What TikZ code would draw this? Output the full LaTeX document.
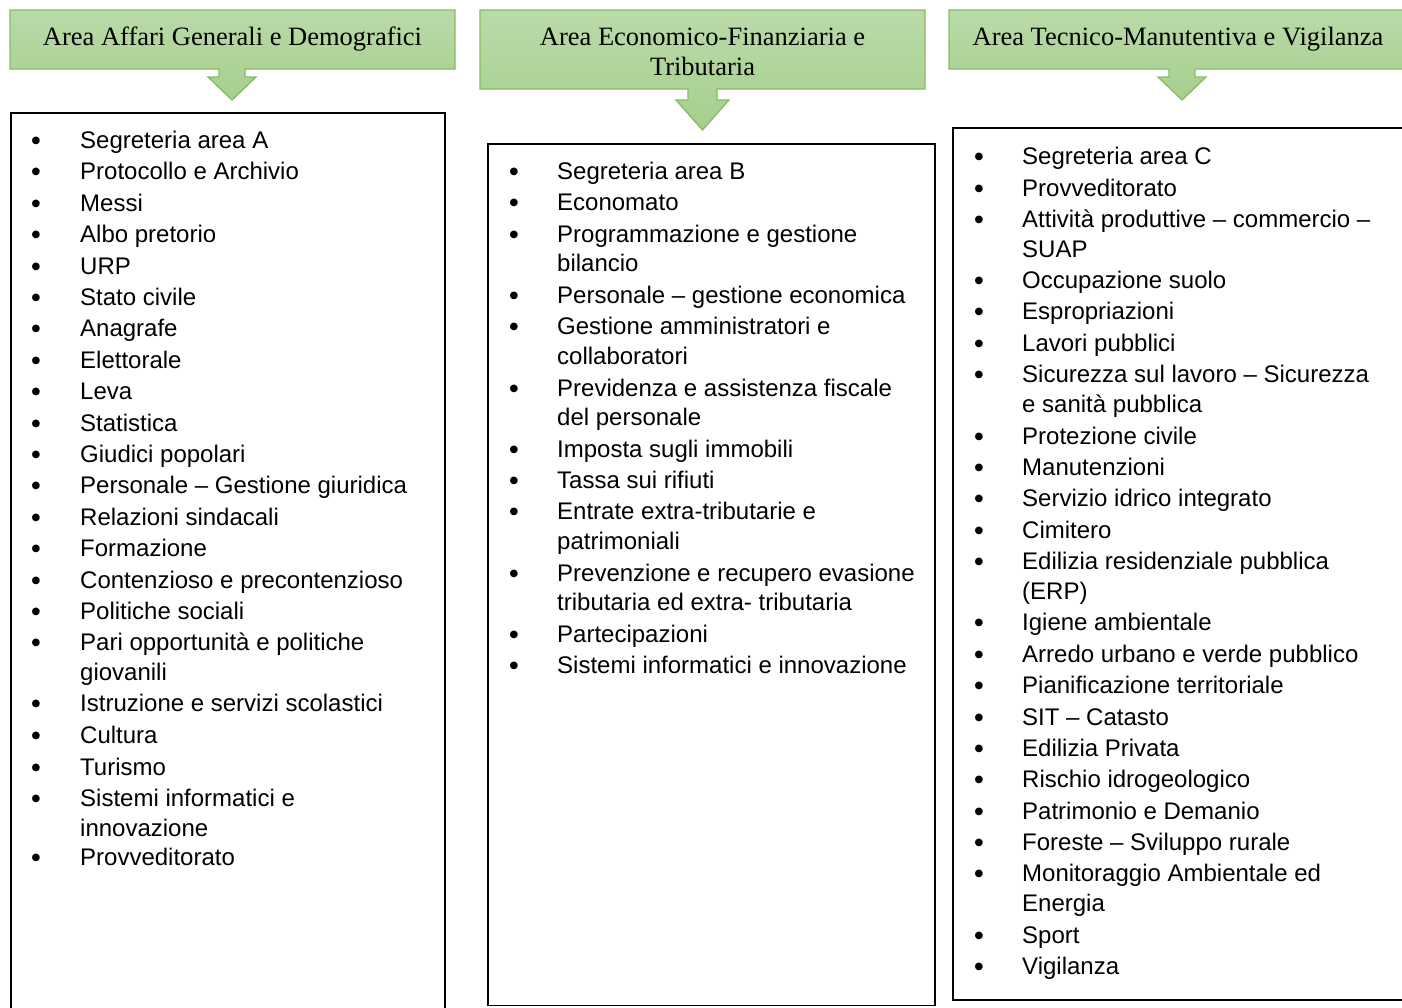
\documentclass[tikz,border=0pt]{standalone}
\usepackage{fontspec}
\setmainfont{Liberation Serif}
\newfontfamily\listfont{Liberation Sans}
\newfontfamily\markfont{DejaVu Sans}
\definecolor{hdrtop}{RGB}{186,218,170}
\definecolor{hdrbot}{RGB}{166,207,140}
\definecolor{hdrline}{RGB}{132,190,100}
\begin{document}
\begin{tikzpicture}[x=1pt,y=-1pt,
  hdr/.style={draw=hdrline, line width=1.3pt, top color=hdrtop, bottom color=hdrbot},
  hdrtext/.style={anchor=base, inner sep=0pt, align=center,
    font=\fontsize{26.5}{30}\selectfont},
  listbox/.style={draw=black, line width=1.7pt, fill=white},
  entry/.style={anchor=base west, inner sep=0pt, font=\listfont\fontsize{24}{29.5}\selectfont},
  dot/.style={anchor=center, inner sep=0pt, font=\markfont\fontsize{10}{10}\selectfont}]
\useasboundingbox (0,0) rectangle (1402,1007);
\fill[white] (0,0) rectangle (1402,1007);

% ---- header shapes: banner with a down-pointing arrow ----
\draw[hdr] (10,10) -- (455,10) -- (455,69) -- (245,69) -- (245,77) -- (256,77)
  -- (232,100) -- (208,77) -- (219,77) -- (219,69) -- (10,69) -- cycle;
\draw[hdr] (480,10) -- (925,10) -- (925,89) -- (717,89) -- (717,100) -- (729,100)
  -- (702.5,130) -- (676,100) -- (688,100) -- (688,89) -- (480,89) -- cycle;
\draw[hdr] (949,10) -- (1420,10) -- (1420,69) -- (1195,69) -- (1195,77) -- (1206,77)
  -- (1182,100) -- (1158,77) -- (1169,77) -- (1169,69) -- (949,69) -- cycle;

\node[hdrtext] (hA) at (232.5,45) {Area Affari Generali e Demografici};
\node[hdrtext] (hB1) at (702.5,45) {Area Economico-Finanziaria e};
\node[hdrtext] (hB2) at (702.5,75) {Tributaria};
\node[hdrtext] (hC) at (1178,45) {Area Tecnico-Manutentiva e Vigilanza};

% ---- list frames ----
\draw[listbox] (11,113) rectangle (445,1025);
\draw[listbox] (488,144) rectangle (935,1005.5);
\draw[listbox] (953,128) rectangle (1425,1000);

% ---- first column ----
\foreach \yc/\txt [count=\i] in {
  140/Segreteria area A, 171/Protocollo e Archivio, 203/Messi, 234/Albo pretorio,
  266/URP, 297/Stato civile, 328/Anagrafe, 360/Elettorale, 391/Leva,
  423/Statistica, 454/Giudici popolari, 485/Personale – Gestione giuridica,
  517/Relazioni sindacali, 548/Formazione, 580/Contenzioso e precontenzioso,
  611/Politiche sociali, 642/Pari opportunità e politiche,
  703/Istruzione e servizi scolastici, 735/Cultura, 767/Turismo,
  798/Sistemi informatici e, 857/Provveditorato} {
  \node[dot] (da\i) at (36,\yc+1) {●};
  \node[entry] (a\i) at (80,\yc+8.5) {\txt};
}
\foreach \yc/\txt [count=\i] in {672/giovanili, 828/innovazione} {
  \node[entry] (ac\i) at (80,\yc+8.5) {\txt};
}

% ---- second column ----
\foreach \yc/\txt [count=\i] in {
  171/Segreteria area B, 202/Economato, 234/Programmazione e gestione,
  295/Personale – gestione economica, 326/Gestione amministratori e,
  388/Previdenza e assistenza fiscale, 449/Imposta sugli immobili,
  480/Tassa sui rifiuti, 511/Entrate extra-tributarie e,
  573/Prevenzione e recupero evasione, 634/Partecipazioni,
  665/Sistemi informatici e innovazione} {
  \node[dot] (db\i) at (514,\yc+1) {●};
  \node[entry] (b\i) at (557,\yc+8.5) {\txt};
}
\foreach \yc/\txt [count=\i] in {263/bilancio, 356/collaboratori,
  417/del personale, 541/patrimoniali, 602/tributaria ed extra- tributaria} {
  \node[entry] (bc\i) at (557,\yc+8.5) {\txt};
}

% ---- third column ----
\foreach \yc/\txt [count=\i] in {
  156/Segreteria area C, 188/Provveditorato,
  219/Attività produttive – commercio –, 280/Occupazione suolo,
  311/Espropriazioni, 343/Lavori pubblici,
  374/Sicurezza sul lavoro – Sicurezza, 436/Protezione civile,
  467/Manutenzioni, 498/Servizio idrico integrato, 530/Cimitero,
  561/Edilizia residenziale pubblica, 622/Igiene ambientale,
  654/Arredo urbano e verde pubblico, 685/Pianificazione territoriale,
  717/SIT – Catasto, 748/Edilizia Privata, 779/Rischio idrogeologico,
  811/Patrimonio e Demanio, 842/Foreste – Sviluppo rurale,
  873/Monitoraggio Ambientale ed, 935/Sport, 966/Vigilanza} {
  \node[dot] (dc\i) at (979,\yc+1) {●};
  \node[entry] (c\i) at (1022,\yc+8.5) {\txt};
}
\foreach \yc/\txt [count=\i] in {249/SUAP, 404/e sanità pubblica,
  591/{(ERP)}, 903/Energia} {
  \node[entry] (cc\i) at (1022,\yc+8.5) {\txt};
}
\end{tikzpicture}
\end{document}
